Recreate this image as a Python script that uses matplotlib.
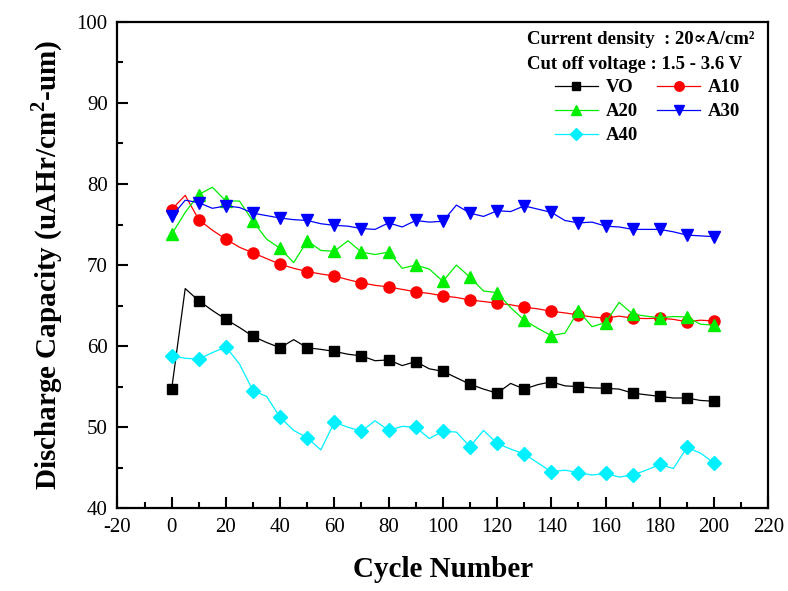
import numpy as np
import matplotlib
matplotlib.use("Agg")
import matplotlib.pyplot as plt

plt.rcParams['font.family'] = ['Liberation Serif', 'DejaVu Serif']
plt.rcParams['mathtext.fontset'] = 'custom'
plt.rcParams['mathtext.rm'] = 'Liberation Serif'
plt.rcParams['mathtext.bf'] = 'Liberation Serif:bold'
plt.rcParams['axes.unicode_minus'] = False

# cycle number, one reading every 5 cycles (markers every 10)
cycles = list(range(0, 205, 5))

vo = [54.7, 67.1, 65.6, 64.4, 63.3, 62.3, 61.2, 60.45, 59.8, 60.8,
      59.8, 59.6, 59.35, 59.0, 58.8, 58.2, 58.3, 57.6, 58.1, 57.2,
      56.9, 56.1, 55.3, 54.7, 54.2, 55.4, 54.7, 55.25, 55.6, 55.1,
      55.0, 54.85, 54.8, 54.7, 54.2, 54.0, 53.8, 53.6, 53.6, 53.3, 53.2]
a10 = [76.85, 78.6, 75.6, 74.3, 73.2, 72.2, 71.5, 70.8, 70.1, 69.6,
       69.2, 68.9, 68.65, 68.2, 67.8, 67.5, 67.3, 67.0, 66.7, 66.5,
       66.2, 66.0, 65.7, 65.5, 65.3, 65.1, 64.8, 64.6, 64.3, 64.1,
       63.85, 63.6, 63.45, 63.7, 63.45, 63.4, 63.45, 63.3, 63.0, 63.2, 63.1]
a20 = [73.8, 76.5, 78.7, 79.6, 77.9, 77.9, 75.4, 73.2, 72.05, 70.3,
       73.0, 71.8, 71.7, 73.0, 71.6, 71.3, 71.6, 69.6, 70.0, 69.5,
       68.0, 70.0, 68.5, 66.8, 66.6, 64.75, 63.2, 62.2, 61.3, 61.6,
       64.35, 62.4, 62.9, 65.4, 63.95, 63.7, 63.5, 63.65, 63.6, 62.7, 62.6]
a30 = [76.0, 78.0, 77.7, 77.0, 77.3, 77.1, 76.4, 76.1, 75.8, 75.6,
       75.5, 75.1, 74.9, 74.8, 74.5, 74.4, 75.2, 74.7, 75.5, 75.3,
       75.4, 77.4, 76.4, 76.0, 76.7, 76.6, 77.3, 76.9, 76.5, 75.5,
       75.2, 75.3, 74.8, 74.7, 74.4, 74.4, 74.4, 74.1, 73.7, 73.6, 73.5]
a40 = [58.8, 58.5, 58.4, 59.2, 59.9, 57.8, 54.5, 53.8, 51.2, 49.6,
       48.7, 47.2, 50.6, 50.0, 49.5, 50.8, 49.6, 50.1, 50.0, 48.6,
       49.5, 49.4, 47.6, 49.6, 48.0, 47.3, 46.7, 45.6, 44.5, 44.7,
       44.4, 44.1, 44.3, 43.85, 44.1, 44.7, 45.4, 44.9, 47.5, 46.8, 45.6]

series = [
    ("VO", vo, "black", "s", 7),
    ("A10", a10, "#ff0000", "o", 8),
    ("A20", a20, "#00ee00", "^", 9),
    ("A30", a30, "#0000ff", "v", 9),
    ("A40", a40, "#00f0ff", "D", 7),
]

fig = plt.figure(figsize=(7.88, 5.91), dpi=100)
ax = fig.add_axes([0.149, 0.140, 0.826, 0.823])

lines = {}
for name, vals, col, mk, ms in series:
    lines[name], = ax.plot(cycles, vals, color=col, lw=0.9, marker=mk,
                           markersize=ms, markevery=2, label=name)

ax.set_xlim(-20, 220)
ax.set_ylim(40, 100)
ax.set_xticks(np.arange(-20, 221, 20))
ax.set_yticks(np.arange(40, 101, 10))
ax.set_xticks(np.arange(-10, 220, 20), minor=True)
ax.set_yticks(np.arange(45, 100, 10), minor=True)
ax.tick_params(which='both', direction='in', top=False, right=False,
               width=1.5, labelsize=15, pad=7)
ax.tick_params(which='major', length=8)
ax.tick_params(which='minor', length=4.5)
for sp in ax.spines.values():
    sp.set_linewidth(1.6)

ax.set_xlabel("Cycle Number", fontsize=21, fontweight='bold', labelpad=14)
ax.set_ylabel(r"Discharge Capacity (uAHr/cm$^{\mathbf{2}}$-um)",
              fontsize=21, fontweight='bold', labelpad=8)

ax.text(0.629, 0.963, "Current density  : 20\u221dA/cm\u00b2", transform=ax.transAxes,
        fontsize=13.5, fontweight='bold', va='center', ha='left')
ax.text(0.629, 0.913, "Cut off voltage : 1.5 - 3.6 V", transform=ax.transAxes,
        fontsize=13.5, fontweight='bold', va='center', ha='left')

# legend reads row by row: VO A10 / A20 A30 / A40
order = ["VO", "A20", "A40", "A10", "A30"]
ax.legend([lines[k] for k in order], order, ncol=2, loc='upper left',
          bbox_to_anchor=(0.672, 0.882),
          frameon=False, borderpad=0, borderaxespad=0,
          prop={'weight': 'bold', 'size': 13.5},
          handlelength=2.3, handletextpad=0.4, columnspacing=1.05,
          labelspacing=0.36, markerscale=0.85)

fig.savefig("out.png", dpi=100)
